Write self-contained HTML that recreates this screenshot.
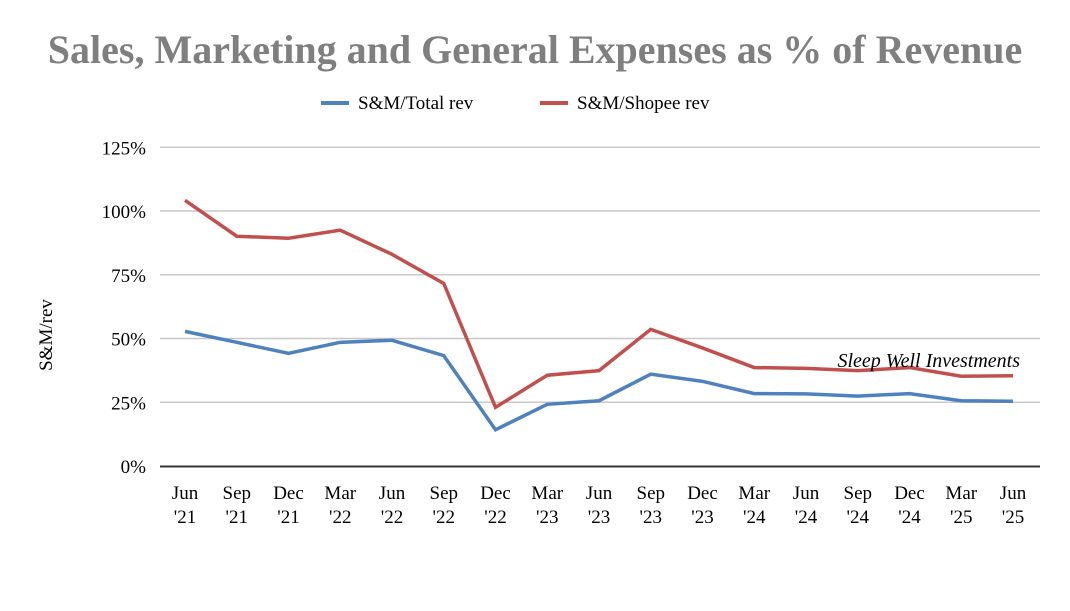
<!DOCTYPE html>
<html><head><meta charset="utf-8"><style>
body{margin:0;background:#fff;}
svg text{font-family:"Liberation Serif",serif;}
</style></head><body>
<svg width="1070" height="606" viewBox="0 0 1070 606">
<text x="535" y="63" text-anchor="middle" font-size="40" font-weight="bold" fill="#7f7f7f">Sales, Marketing and General Expenses as % of Revenue</text>
<g>
<line x1="321" y1="103" x2="349" y2="103" stroke="#4f81bd" stroke-width="4"/>
<text x="358" y="109" font-size="19">S&amp;M/Total rev</text>
<line x1="540" y1="103" x2="568" y2="103" stroke="#c0504d" stroke-width="4"/>
<text x="577" y="109" font-size="19">S&amp;M/Shopee rev</text>
</g>
<text transform="translate(52,335) rotate(-90)" text-anchor="middle" font-size="19">S&amp;M/rev</text>
<g id="grid"></g><g id="xl"></g><g id="lines"></g>
<text x="1020" y="367" text-anchor="end" font-size="20" font-style="italic">Sleep Well Investments</text>
</svg>
<script>
const categories=["Jun '21","Sep '21","Dec '21","Mar '22","Jun '22","Sep '22","Dec '22","Mar '23","Jun '23","Sep '23","Dec '23","Mar '24","Jun '24","Sep '24","Dec '24","Mar '25","Jun '25"];
const totalRev=[52.8,48.5,44.2,48.5,49.3,43.3,14.2,24.2,25.6,36,33.2,28.4,28.3,27.4,28.4,25.6,25.4];
const shopeeRev=[104.2,90.1,89.3,92.5,83,71.6,23,35.6,37.4,53.6,46.3,38.6,38.3,37.4,38.6,35.2,35.4];
const yTicks=[0,25,50,75,100,125];
const NS="http://www.w3.org/2000/svg";
const x=i=>185+i*51.75, y=v=>466-v*2.55;
const grid=document.getElementById('grid');
yTicks.forEach(t=>{
 if(t>0){const l=document.createElementNS(NS,'line');
 l.setAttribute('x1',160);l.setAttribute('x2',1040);l.setAttribute('y1',y(t));l.setAttribute('y2',y(t));
 l.setAttribute('stroke','#c8c8c8');l.setAttribute('stroke-width',1.5);
 
 grid.appendChild(l);}
 const tx=document.createElementNS(NS,'text');
 tx.setAttribute('x',146);tx.setAttribute('y',y(t)+7);tx.setAttribute('text-anchor','end');tx.setAttribute('font-size',19);
 tx.textContent=t+'%';
 
 grid.appendChild(tx);
});
const ax=document.createElementNS(NS,'line');
ax.setAttribute('x1',160);ax.setAttribute('x2',1040);ax.setAttribute('y1',466.5);ax.setAttribute('y2',466.5);
ax.setAttribute('stroke','#333');ax.setAttribute('stroke-width',2);

grid.appendChild(ax);
const xl=document.getElementById('xl');
categories.forEach((c,i)=>{
 const p=c.split(' ');
 const tx=document.createElementNS(NS,'text');
 tx.setAttribute('text-anchor','middle');tx.setAttribute('font-size',19);
 
 
 p.forEach((s,k)=>{const ts=document.createElementNS(NS,'tspan');ts.setAttribute('x',x(i));ts.setAttribute('y',499+k*24);ts.textContent=s;tx.appendChild(ts);});
 xl.appendChild(tx);
});
const lines=document.getElementById('lines');
[[totalRev,'#4f81bd','line-total-rev'],[shopeeRev,'#c0504d','line-shopee-rev']].forEach(([d,col,n])=>{
 const pl=document.createElementNS(NS,'polyline');
 pl.setAttribute('points',d.map((v,i)=>x(i)+','+y(v)).join(' '));
 pl.setAttribute('fill','none');pl.setAttribute('stroke',col);pl.setAttribute('stroke-width',3.5);
 
 lines.appendChild(pl);
});
</script>
</body></html>
